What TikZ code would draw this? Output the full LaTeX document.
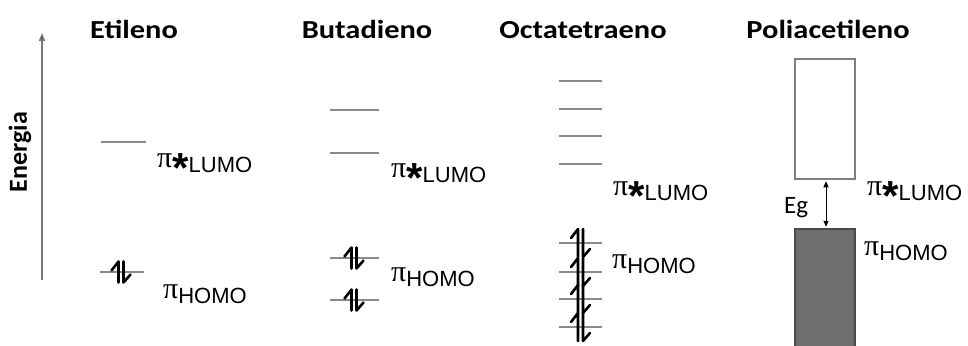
\documentclass[tikz,border=0pt]{standalone}
\usepackage{fontspec}
\setmainfont{Liberation Sans}
\newfontfamily\titlefont{Carlito}
\newfontfamily\greekfont{Liberation Serif}
\usetikzlibrary{arrows.meta}

\definecolor{levelgray}{HTML}{8A8A8A}
\definecolor{axisgray}{HTML}{7A7A7A}
\definecolor{boxgray}{HTML}{7F7F7F}
\definecolor{bandfill}{HTML}{6E6E6E}
\definecolor{bandedge}{HTML}{4A4A4A}

% orbital label: pi, optional star, lowered subscript
\newcommand{\orbstar}{\raisebox{-15pt}{\bfseries\fontsize{42}{42}\selectfont *}}
\newcommand{\orblabel}[2]{{\greekfont\fontsize{30}{30}\selectfont π}#1\raisebox{-5pt}{\fontsize{22}{22}\selectfont #2}}

% paired electrons (up and down half arrows) on a level centred at (#1,#2), half height #3
\newcommand{\epair}[3]{%
  \draw[spin] (#1-2.5,#2+#3) -- (#1-2.5,#2-#3) -- (#1-9.5,#2-#3+9);
  \draw[spin] (#1+2.5,#2-#3) -- (#1+2.5,#2+#3) -- (#1+9.5,#2+#3-8);
}

\begin{document}
\begin{tikzpicture}[x=1pt,y=-1pt,
  level/.style={draw=levelgray,line width=1.5pt},
  spin/.style={draw=black,line width=2.6pt,line cap=round,line join=round},
  title/.style={font=\titlefont\bfseries\fontsize{26}{26}\selectfont,xscale=1.17,anchor=base,inner sep=0pt},
  orb/.style={anchor=base west,inner sep=0pt},
]
\useasboundingbox (0,0) rectangle (968,345);

% energy axis
\coordinate (axbot) at (42,280);
\coordinate (axtop) at (42,33);
\draw[draw=axisgray,line width=1.5pt,-{Triangle[length=8pt,width=6pt,fill=black!80]}] (axbot) -- (axtop);
\node[rotate=90,font=\titlefont\bfseries\fontsize{26}{26}\selectfont,inner sep=0pt] (energy) at (20,152) {Energia};

% column titles
\node[title] (t1) at (134,38) {Etileno};
\node[title] (t2) at (367,38) {Butadieno};
\node[title] (t3) at (583,38) {Octatetraeno};
\node[title] (t4) at (828,38) {Poliacetileno};

% ethylene
\draw[level] (101,142) -- (146,142);
\draw[level] (100,272) -- (144,272);
\epair{121}{272}{10.5}
\node[orb] (e1l) at (157,167) {\orblabel{\orbstar}{LUMO}};
\node[orb] (e1h) at (163,298) {\orblabel{}{HOMO}};

% butadiene
\foreach \y in {110,153,258,300} \draw[level] (330,\y) -- (379,\y);
\epair{354}{258}{10.5}
\epair{354}{300}{10.5}
\node[orb] (e2l) at (391,177) {\orblabel{\orbstar}{LUMO}};
\node[orb] (e2h) at (391,281) {\orblabel{}{HOMO}};

% octatetraene
\foreach \y in {81,109,136,164,243,272,299,327} \draw[level] (559,\y) -- (602,\y);
\foreach \y in {243,272,299,327} {\epair{580.5}{\y}{14}}
\node[orb] (e3l) at (613,195) {\orblabel{\orbstar}{LUMO}};
\node[orb] (e3h) at (612,268) {\orblabel{}{HOMO}};

% polyacetylene bands
\node[draw=boxgray,fill=white,line width=1.5pt,minimum width=60pt,minimum height=120pt,inner sep=0pt] (cb) at (825,119) {};
\node[draw=bandedge,fill=bandfill,line width=1.5pt,minimum width=60pt,minimum height=124pt,inner sep=0pt] (vb) at (825,291) {};
\draw[line width=0.9pt,{Triangle[length=6pt,width=5pt]}-{Triangle[length=6pt,width=5pt]},shorten <=1.5pt,shorten >=1.5pt]
  ([xshift=1pt]cb.south) -- ([xshift=1pt]vb.north);
\node[orb,font=\titlefont\fontsize{25}{25}\selectfont] (eg) at (784,213) {Eg};
\node[orb] (e4l) at (867,195) {\orblabel{\orbstar}{LUMO}};
\node[orb] (e4h) at (864,255) {\orblabel{}{HOMO}};
\end{tikzpicture}
\end{document}
